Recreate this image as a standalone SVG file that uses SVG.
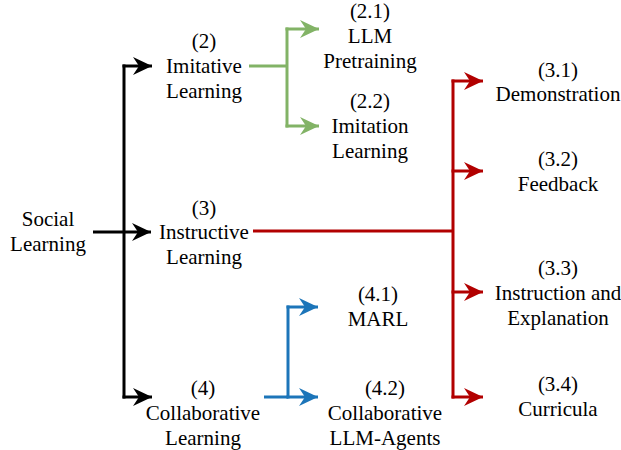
<svg xmlns="http://www.w3.org/2000/svg" width="621" height="450" viewBox="0 0 621 450">
<style>
.t text{font-size:21px;fill:#000;text-anchor:middle}
.c{fill:none;stroke-width:3;stroke-linecap:butt;stroke-linejoin:miter}
.k{stroke:#000}.r{stroke:#B20000}.g{stroke:#82B366}.b{stroke:#1C75B9}
</style>
<defs>
<marker id="ak" viewBox="-20 -10 21 20" refX="0" refY="0" markerWidth="21" markerHeight="20" markerUnits="userSpaceOnUse" orient="auto"><path d="M0,0 L-19,-9 L-13,0 L-19,9 Z" fill="#000"/></marker>
<marker id="ar" viewBox="-20 -10 21 20" refX="0" refY="0" markerWidth="21" markerHeight="20" markerUnits="userSpaceOnUse" orient="auto"><path d="M0,0 L-19,-9 L-13,0 L-19,9 Z" fill="#B20000"/></marker>
<marker id="ag" viewBox="-20 -10 21 20" refX="0" refY="0" markerWidth="21" markerHeight="20" markerUnits="userSpaceOnUse" orient="auto"><path d="M0,0 L-19,-9 L-13,0 L-19,9 Z" fill="#82B366"/></marker>
<marker id="ab" viewBox="-20 -10 21 20" refX="0" refY="0" markerWidth="21" markerHeight="20" markerUnits="userSpaceOnUse" orient="auto"><path d="M0,0 L-19,-9 L-13,0 L-19,9 Z" fill="#1C75B9"/></marker>
</defs>
<g id="connectors">
<path class="c k" d="M124,64.5 V398.5"/>
<path class="c k" d="M122.5,66 H152" marker-end="url(#ak)"/>
<path class="c k" d="M122.5,397 H152" marker-end="url(#ak)"/>
<path class="c k" d="M93,232 H151" marker-end="url(#ak)"/>
<path class="c g" d="M249,66 H287"/>
<path class="c g" d="M287,27.5 V127.5"/>
<path class="c g" d="M285.5,29 H319" marker-end="url(#ag)"/>
<path class="c g" d="M285.5,126 H319" marker-end="url(#ag)"/>
<path class="c r" d="M253,231 H453"/>
<path class="c r" d="M453,79.5 V398.5"/>
<path class="c r" d="M451.5,81 H483" marker-end="url(#ar)"/>
<path class="c r" d="M451.5,171 H483" marker-end="url(#ar)"/>
<path class="c r" d="M451.5,292 H483" marker-end="url(#ar)"/>
<path class="c r" d="M451.5,397 H483" marker-end="url(#ar)"/>
<path class="c b" d="M264,397 H288"/>
<path class="c b" d="M288,305.5 V398.5"/>
<path class="c b" d="M286.5,307 H318" marker-end="url(#ab)"/>
<path class="c b" d="M286.5,397 H318" marker-end="url(#ab)"/>
</g>
<g class="t" font-family="'Liberation Serif', 'DejaVu Serif', 'Times New Roman', serif">
<g id="n1"><text x="48" y="226">Social</text><text x="48" y="251">Learning</text></g>
<g id="n2"><text x="204" y="48">(2)</text><text x="204" y="73">Imitative</text><text x="204" y="98">Learning</text></g>
<g id="n3"><text x="204" y="215">(3)</text><text x="204" y="239">Instructive</text><text x="204" y="264">Learning</text></g>
<g id="n4"><text x="203" y="395">(4)</text><text x="203" y="420">Collaborative</text><text x="203" y="445">Learning</text></g>
<g id="n21"><text x="370" y="18">(2.1)</text><text x="370" y="43">LLM</text><text x="370" y="68">Pretraining</text></g>
<g id="n22"><text x="370" y="108">(2.2)</text><text x="370" y="133">Imitation</text><text x="370" y="158">Learning</text></g>
<g id="n31"><text x="558" y="77">(3.1)</text><text x="558" y="101">Demonstration</text></g>
<g id="n32"><text x="558" y="166">(3.2)</text><text x="558" y="191">Feedback</text></g>
<g id="n33"><text x="558" y="275">(3.3)</text><text x="558" y="300">Instruction and</text><text x="558" y="325">Explanation</text></g>
<g id="n34"><text x="558" y="391">(3.4)</text><text x="558" y="416">Curricula</text></g>
<g id="n41"><text x="378" y="301">(4.1)</text><text x="378" y="326">MARL</text></g>
<g id="n42"><text x="385" y="395">(4.2)</text><text x="385" y="420">Collaborative</text><text x="385" y="445">LLM-Agents</text></g>
</g>
</svg>
